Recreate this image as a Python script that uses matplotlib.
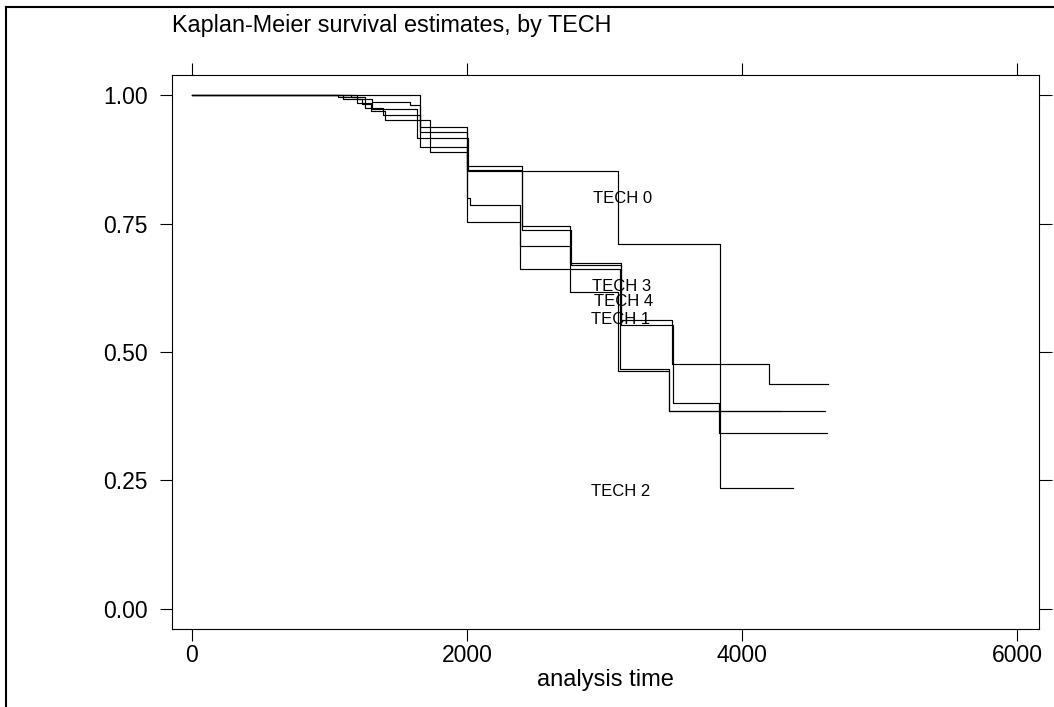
import matplotlib.pyplot as plt
from matplotlib.lines import Line2D

plt.rcParams['font.family'] = ['Liberation Sans', 'DejaVu Sans']

# Kaplan-Meier step curves (analysis time, survival)
t_a = [0, 1660, 2000, 3100, 3840, 4370]
s_a = [1.0, 0.938, 0.852, 0.710, 0.235, 0.235]

t_b = [0, 1200, 1310, 1585, 1660, 2000, 2400, 2750, 3120, 3490, 4196, 4625]
s_b = [1.0, 0.992, 0.986, 0.980, 0.928, 0.862, 0.745, 0.673, 0.562, 0.477, 0.438, 0.438]

t_c = [0, 1160, 1260, 1310, 1640, 2010, 2400, 2760, 3120, 3500, 3833, 4618]
s_c = [1.0, 0.996, 0.984, 0.973, 0.916, 0.854, 0.737, 0.670, 0.553, 0.401, 0.342, 0.342]

t_d = [0, 1060, 1200, 1260, 1390, 1660, 2000, 2020, 2385, 2750, 3110, 3470, 4604]
s_d = [1.0, 0.996, 0.985, 0.975, 0.961, 0.899, 0.800, 0.786, 0.706, 0.661, 0.467, 0.385, 0.385]

t_e = [0, 1100, 1240, 1300, 1404, 1731, 2000, 2385, 2750, 3098, 3469, 4276]
s_e = [1.0, 0.993, 0.982, 0.968, 0.951, 0.889, 0.753, 0.661, 0.617, 0.463, 0.385, 0.385]

curves = [(t_a, s_a), (t_b, s_b), (t_c, s_c), (t_d, s_d), (t_e, s_e)]

# group labels placed inside the plot
tech_labels = ["TECH 0", "TECH 3", "TECH 4", "TECH 1", "TECH 2"]
label_x = [2915, 2910, 2925, 2900, 2900]
label_y = [0.798, 0.628, 0.599, 0.564, 0.228]

xticks = [0, 2000, 4000, 6000]
yticks = [0.0, 0.25, 0.5, 0.75, 1.0]
ytick_labels = ["0.00", "0.25", "0.50", "0.75", "1.00"]

W, H = 1054, 707
fig = plt.figure(figsize=(W / 100, H / 100), dpi=100)
ax = fig.add_axes([172 / W, 1 - 629 / H, (1039 - 172) / W, (629 - 75) / H])

for t, s in curves:
    ax.step(t, s, where='post', color='black', linewidth=0.85)

for lab, x, y in zip(tech_labels, label_x, label_y):
    ax.text(x, y, lab, fontsize=12, ha='left', va='center')

ax.set_xlim(-145, 6160)
ax.set_ylim(-0.039, 1.039)
ax.set_xticks(xticks)
ax.set_yticks(yticks)
ax.set_yticklabels(ytick_labels)

for sp in ax.spines.values():
    sp.set_linewidth(0.8)

ax.tick_params(direction='out', top=True, right=True,
               labeltop=False, labelright=False, width=0.8, labelsize=16.5)
ax.tick_params(axis='x', length=8.5, pad=2)
ax.tick_params(axis='y', length=9, pad=8.5)

ax.set_xlabel('analysis time', fontsize=17, labelpad=1.5)

fig.text(172 / W, 1 - 32.3 / H, 'Kaplan-Meier survival estimates, by TECH',
         fontsize=16.85, ha='left', va='baseline')

# outer frame (cut off at right and bottom edges)
fig.add_artist(Line2D([6 / W, 1.01], [1 - 7 / H, 1 - 7 / H],
                      transform=fig.transFigure, color='black', linewidth=1.5))
fig.add_artist(Line2D([6 / W, 6 / W], [1 - 7 / H, -0.01],
                      transform=fig.transFigure, color='black', linewidth=1.5))

fig.savefig('out.png', dpi=100)
